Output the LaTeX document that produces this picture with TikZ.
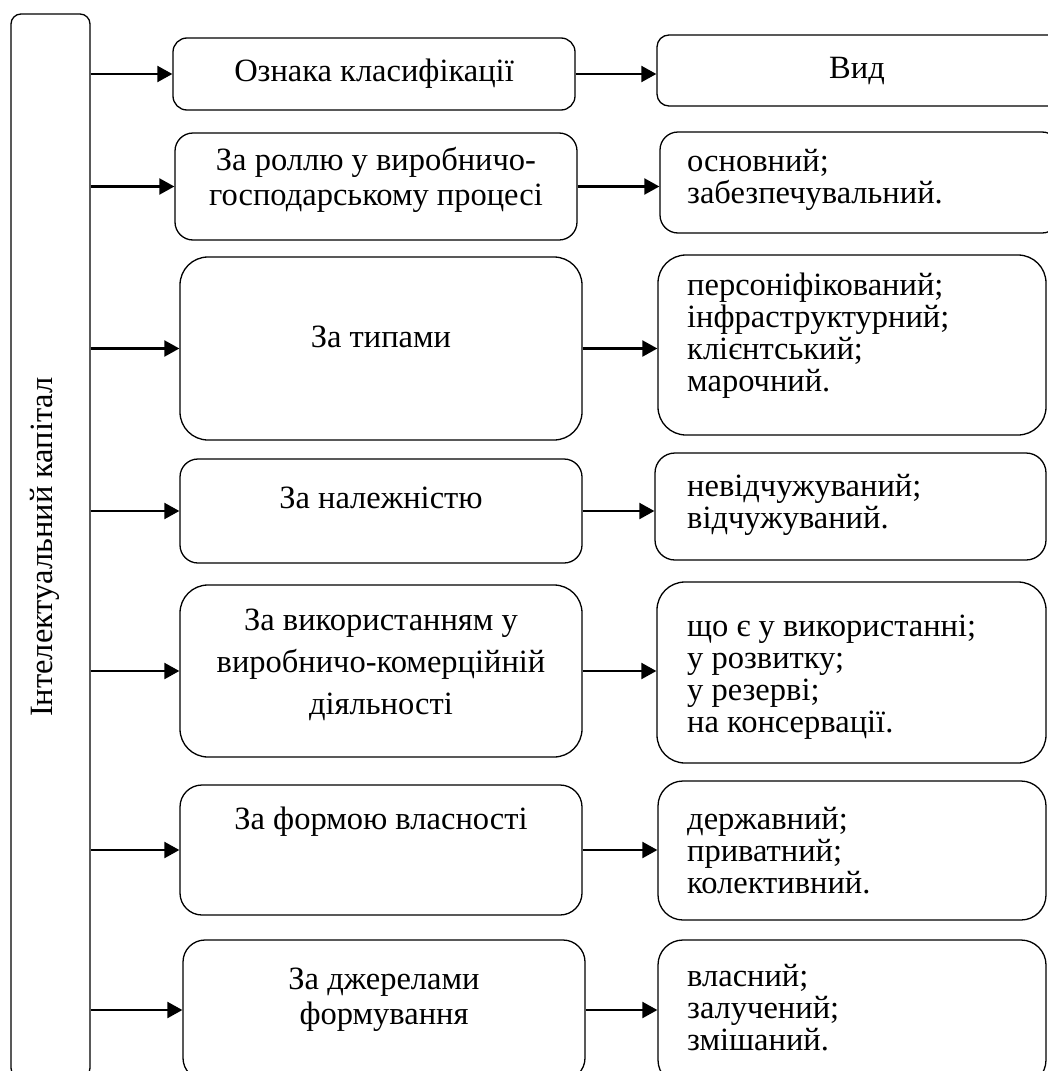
\documentclass[tikz,border=0pt]{standalone}
\usepackage{fontspec}
\setmainfont{Liberation Serif}
\usetikzlibrary{arrows.meta,positioning}

\begin{document}
\begin{tikzpicture}[
  x=1pt, y=-1pt,
  font=\fontsize{32.5}{32}\selectfont,
  % arrows
  arr/.style={draw=black, line width=2.2pt, -{Triangle[length=15pt,width=16pt]}},
  % boxes
  ic/.style={draw=black, line width=1.3pt, rounded corners=10pt,
             minimum width=79pt, minimum height=1064pt, inner sep=0pt},
  crit/.style={draw=black, line width=1.3pt, minimum width=402pt, inner sep=0pt},
  kind/.style={draw=black, line width=1.3pt, inner sep=0pt},
  % texts
  critT/.style={align=center, inner sep=0pt, font=\fontsize{32.5}{35}\selectfont},
  kindT/.style={align=left, anchor=west, inner sep=0pt},
]

\useasboundingbox (0,0) rectangle (1048,1071);
\clip (0,0) rectangle (1048,1071);

% -- Left column ------------------------------------------------------
\node[ic] (ic) at (50.5,546) {};
\node[rotate=90, inner sep=0pt] (icT) at (45,547) {Інтелектуальний капітал};

% -- Criteria ---------------------------------------------------------
\node[crit, minimum height=72pt,  rounded corners=14pt] (m0) at (374,74)    {};
\node[crit, minimum height=107pt, rounded corners=18pt] (m1) at (376,186.5) {};
\node[crit, minimum height=183pt, rounded corners=28pt] (m2) at (381,348.5) {};
\node[crit, minimum height=104pt, rounded corners=18pt] (m3) at (381,511)   {};
\node[crit, minimum height=172pt, rounded corners=28pt] (m4) at (381,671)   {};
\node[crit, minimum height=130pt, rounded corners=22pt] (m5) at (381,850)   {};
\node[crit, minimum height=140pt, rounded corners=22pt] (m6) at (384,1010)  {};

\node[critT] (m0T) at (374,74)  {Ознака класифікації};
\node[critT] (m1T) at (376,180) {За роллю у виробничо-\\господарському процесі};
\node[critT] (m2T) at (381,337) {За типами};
\node[critT] (m3T) at (381,498) {За належністю};
\node[critT, font=\fontsize{32.5}{42}\selectfont] (m4T) at (381,665)
  {За використанням у\\виробничо-комерційній\\діяльності};
\node[critT] (m5T) at (381,822) {За формою власності};
\node[critT] (m6T) at (384,1000) {За джерелами\\формування};

% -- Kinds ------------------------------------------------------------
\node[kind, minimum width=403pt, minimum height=71pt,  rounded corners=12pt] (r0) at (858.5,70.5) {};
\node[kind, minimum width=400pt, minimum height=101pt, rounded corners=18pt] (r1) at (860,182.5)  {};
\node[kind, minimum width=388pt, minimum height=180pt, rounded corners=28pt] (r2) at (852,345)    {};
\node[kind, minimum width=391pt, minimum height=107pt, rounded corners=20pt] (r3) at (850.5,506.5){};
\node[kind, minimum width=389pt, minimum height=181pt, rounded corners=28pt] (r4) at (851.5,672.5){};
\node[kind, minimum width=388pt, minimum height=139pt, rounded corners=25pt] (r5) at (852,850.5)  {};
\node[kind, minimum width=388pt, minimum height=145pt, rounded corners=25pt] (r6) at (852,1012.5) {};

\node[inner sep=0pt] (r0T) at (857,71) {Вид};
\node[kindT] (r1T) at (687,180) {основний;\\забезпечувальний.};
\node[kindT] (r2T) at (687,336) {персоніфікований;\\інфраструктурний;\\клієнтський;\\марочний.};
\node[kindT] (r3T) at (687,505) {невідчужуваний;\\відчужуваний.};
\node[kindT] (r4T) at (687,677) {що є у використанні;\\у розвитку;\\у резерві;\\на консервації.};
\node[kindT] (r5T) at (687,851) {державний;\\приватний;\\колективний.};
\node[kindT] (r6T) at (687,1008) {власний;\\залучений;\\змішаний.};

% -- Connectors -------------------------------------------------------
\foreach \i in {0,...,6}{
  \draw[arr] (ic.east |- m\i.west) -- (m\i.west);
  \draw[arr] (m\i.east) -- (m\i.east -| r\i.west);
}

\end{tikzpicture}
\end{document}
